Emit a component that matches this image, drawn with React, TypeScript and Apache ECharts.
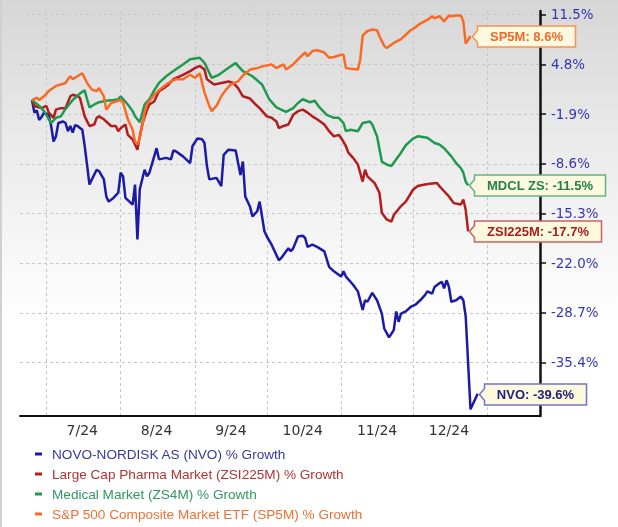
import React, { useEffect, useRef } from 'react';
import * as echarts from 'echarts';

// ---------- categories: one per calendar day, 6/20/2024 .. 1/23/2025 ----------
const FIRST_DAY = Date.UTC(2024, 5, 20);
const DAY_COUNT = 218;
const categories: string[] = [];
for (let i = 0; i < DAY_COUNT; i++) {
  const d = new Date(FIRST_DAY + i * 86400000);
  categories.push(`${d.getUTCMonth() + 1}/${d.getUTCDate()}`);
}

const yTickValues = [-35.4, -28.7, -22.0, -15.3, -8.6, -1.9, 4.8, 11.5];

const legendNames = [
  'NOVO-NORDISK AS (NVO) % Growth',
  'Large Cap Pharma Market (ZSI225M) % Growth',
  'Medical Market (ZS4M) % Growth',
  'S&P 500 Composite Market ETF (SP5M) % Growth',
];
const endTags = ['NVO', 'ZSI225M', 'MDCL ZS', 'SP5M'];

// ---------- NVO ----------
const nvoDates = [
  '6/25', '6/26', '6/27', '6/28', '6/29', '6/30', '7/2', '7/3', '7/4', '7/5',
  '7/6', '7/8', '7/9', '7/10', '7/11', '7/12', '7/13', '7/14', '7/16', '7/17',
  '7/19', '7/20', '7/22', '7/23', '7/25', '7/26', '7/27', '7/29', '7/31', '8/1',
  '8/2', '8/3', '8/6', '8/7', '8/8', '8/9', '8/11', '8/12', '8/13', '8/14',
  '8/16', '8/17', '8/20', '8/22', '8/23', '8/24', '8/27', '8/30', '8/31', '9/2',
  '9/4', '9/5', '9/6', '9/7', '9/10', '9/12', '9/13', '9/15', '9/18', '9/20',
  '9/21', '9/22', '9/24', '9/25', '9/27', '9/28', '9/30', '10/1', '10/3', '10/6',
  '10/7', '10/10', '10/11', '10/12', '10/14', '10/16', '10/17', '10/18', '10/20', '10/22',
  '10/25', '10/27', '10/29', '11/1', '11/2', '11/3', '11/6', '11/8', '11/10', '11/11',
  '11/12', '11/14', '11/16', '11/18', '11/19', '11/21', '11/23', '11/24', '11/25', '11/26',
  '11/28', '11/30', '12/2', '12/4', '12/6', '12/7', '12/9', '12/10', '12/12', '12/13',
  '12/14', '12/15', '12/16', '12/17', '12/19', '12/21', '12/22', '12/23', '12/25', '12/28',
];
const nvoValues = [
  0.0, -1.7, -1.4, -2.7, -2.3, -1.7, -2.0, -3.5, -5.6, -4.9,
  -3.1, -2.9, -3.1, -4.2, -3.5, -4.4, -3.4, -3.5, -4.0, -6.2,
  -11.4, -10.7, -9.4, -9.6, -10.7, -13.0, -13.7, -13.2, -12.5, -9.8,
  -10.3, -13.2, -14.1, -11.4, -18.8, -12.0, -9.4, -10.3, -9.8, -8.7,
  -6.5, -8.0, -7.8, -8.0, -6.8, -6.9, -7.6, -8.5, -6.2, -5.2,
  -5.3, -5.8, -8.9, -10.7, -10.5, -11.6, -7.4, -6.7, -6.8, -10.1,
  -8.3, -13.0, -14.4, -15.7, -15.0, -13.7, -17.7, -18.4, -19.5, -21.6,
  -21.3, -20.0, -20.4, -20.0, -18.4, -18.3, -18.6, -19.8, -19.5, -19.8,
  -20.4, -22.5, -23.1, -23.8, -23.1, -23.8, -24.9, -25.8, -28.3, -27.0,
  -27.2, -26.0, -27.0, -28.8, -30.8, -32.0, -31.0, -28.5, -29.9, -28.8,
  -28.5, -27.9, -27.6, -27.0, -26.3, -25.8, -26.1, -25.2, -24.7, -24.5,
  -25.4, -24.3, -25.2, -27.2, -27.0, -26.5, -27.0, -29.2, -41.7, -39.6,
];

// ---------- ZSI225M ----------
const zsiDates = [
  '6/25', '6/26', '6/29', '7/1', '7/2', '7/4', '7/5', '7/7', '7/9', '7/11',
  '7/12', '7/14', '7/15', '7/17', '7/19', '7/21', '7/22', '7/23', '7/25', '7/28',
  '7/30', '7/31', '8/1', '8/3', '8/4', '8/6', '8/7', '8/8', '8/9', '8/10',
  '8/12', '8/13', '8/15', '8/16', '8/17', '8/19', '8/21', '8/23', '8/27', '8/30',
  '9/1', '9/3', '9/5', '9/6', '9/9', '9/12', '9/15', '9/17', '9/19', '9/21',
  '9/24', '9/26', '9/28', '10/1', '10/3', '10/5', '10/6', '10/8', '10/10', '10/12',
  '10/14', '10/16', '10/18', '10/20', '10/22', '10/25', '10/27', '10/29', '10/31', '11/1',
  '11/3', '11/4', '11/6', '11/8', '11/10', '11/11', '11/12', '11/15', '11/17', '11/18',
  '11/20', '11/22', '11/23', '11/26', '11/28', '12/1', '12/3', '12/6', '12/8', '12/11',
  '12/12', '12/14', '12/16', '12/18', '12/21', '12/22', '12/23', '12/24',
];
const zsiValues = [
  0.0, -0.8, -1.1, -0.8, -1.7, -2.4, -1.3, -1.1, -1.1, 0.5,
  0.7, 0.5, 0.3, -2.2, -3.5, -3.3, -2.4, -2.2, -2.6, -3.5,
  -3.5, -4.2, -3.8, -3.3, -4.7, -5.3, -6.0, -6.7, -4.9, -3.3,
  -1.3, -0.6, -0.2, 0.5, 1.2, 1.6, 2.1, 2.8, 3.4, 3.9,
  4.3, 4.6, 4.1, 2.8, 2.1, 2.3, 2.5, 2.3, 1.6, 0.5,
  0.2, -0.5, -1.1, -2.2, -2.4, -2.9, -3.8, -3.5, -3.3, -2.0,
  -1.5, -1.3, -1.7, -2.2, -2.6, -3.3, -4.2, -4.9, -4.7, -5.1,
  -6.2, -7.1, -7.8, -8.7, -11.0, -9.4, -10.3, -11.2, -12.5, -15.2,
  -16.1, -16.4, -15.5, -14.3, -13.7, -12.1, -11.6, -11.4, -11.3, -11.2,
  -11.6, -12.3, -13.0, -13.9, -14.1, -13.4, -14.8, -17.7,
];

// ---------- ZS4M (MDCL ZS) ----------
const zs4Dates = [
  '6/25', '6/28', '6/30', '7/3', '7/5', '7/7', '7/9', '7/12', '7/14', '7/16',
  '7/17', '7/18', '7/19', '7/21', '7/23', '7/26', '7/29', '7/31', '8/1', '8/4',
  '8/6', '8/7', '8/9', '8/11', '8/13', '8/15', '8/17', '8/20', '8/23', '8/27',
  '8/30', '9/3', '9/5', '9/8', '9/11', '9/14', '9/18', '9/19', '9/21', '9/25',
  '9/29', '10/2', '10/5', '10/9', '10/12', '10/14', '10/16', '10/19', '10/21', '10/23',
  '10/26', '10/29', '10/31', '11/2', '11/3', '11/5', '11/8', '11/10', '11/13', '11/14',
  '11/16', '11/18', '11/20', '11/22', '11/24', '11/26', '11/28', '12/1', '12/3', '12/7',
  '12/10', '12/12', '12/14', '12/17', '12/19', '12/21', '12/22', '12/23', '12/24',
];
const zs4Values = [
  0.0, -0.8, -1.5, -3.1, -2.4, -2.2, -1.2, 0.0, 0.6, 1.1,
  1.3, 0.1, -1.0, -0.6, -0.3, -0.1, 0.0, 0.1, 0.5, -0.6,
  -1.5, -2.2, -3.0, -0.6, 0.1, 1.3, 2.3, 3.2, 3.9, 4.8,
  5.5, 5.7, 5.0, 3.0, 3.4, 4.1, 5.0, 4.6, 3.9, 3.2,
  2.1, 0.1, -1.0, -1.6, -1.1, -0.4, 0.1, -0.3, -0.1, -1.0,
  -2.0, -2.4, -2.4, -3.1, -4.2, -4.0, -4.2, -3.1, -2.9, -3.3,
  -4.9, -8.3, -8.7, -8.9, -8.0, -7.1, -6.1, -5.2, -4.9, -5.1,
  -5.8, -6.0, -6.5, -7.6, -8.5, -9.2, -9.8, -11.0, -11.5,
];

// ---------- SP5M ----------
const sp5Dates = [
  '6/25', '6/27', '6/28', '6/30', '7/2', '7/5', '7/7', '7/9', '7/10', '7/11',
  '7/12', '7/14', '7/16', '7/18', '7/20', '7/22', '7/23', '7/25', '7/26', '7/28',
  '7/31', '8/1', '8/2', '8/4', '8/6', '8/7', '8/8', '8/9', '8/10', '8/11',
  '8/12', '8/14', '8/16', '8/18', '8/20', '8/22', '8/24', '8/27', '8/30', '9/1',
  '9/3', '9/5', '9/7', '9/8', '9/10', '9/12', '9/14', '9/16', '9/19', '9/21',
  '9/24', '9/27', '9/30', '10/3', '10/5', '10/8', '10/9', '10/12', '10/15', '10/17',
  '10/18', '10/20', '10/22', '10/25', '10/27', '10/29', '11/1', '11/2', '11/3', '11/5',
  '11/8', '11/9', '11/10', '11/12', '11/14', '11/16', '11/17', '11/19', '11/20', '11/23',
  '11/26', '11/28', '11/30', '12/2', '12/4', '12/7', '12/9', '12/10', '12/12', '12/14',
  '12/16', '12/17', '12/19', '12/21', '12/22', '12/23', '12/25',
];
const sp5Values = [
  0.0, 0.3, 0.0, 0.5, 1.2, 1.9, 2.1, 2.3, 2.8, 3.2,
  2.8, 3.2, 3.6, 2.3, 1.4, 1.2, 1.6, 0.5, -1.3, -0.4,
  -0.1, 0.0, -0.3, -2.6, -4.0, -5.6, -6.0, -5.1, -3.5, -1.7,
  -0.6, 0.3, 1.0, 1.6, 2.1, 2.5, 2.8, 2.8, 3.4, 3.0,
  3.6, 1.0, -0.8, -1.5, -0.8, 0.5, 1.4, 2.1, 2.5, 3.3,
  4.1, 4.3, 4.6, 4.8, 4.3, 4.8, 4.1, 4.8, 5.8, 6.4,
  5.9, 6.6, 6.7, 6.4, 5.7, 5.8, 6.1, 6.1, 4.3, 4.2,
  4.1, 5.5, 8.7, 9.3, 9.5, 9.4, 8.6, 7.3, 7.0, 7.7,
  8.2, 8.8, 9.4, 9.8, 10.3, 10.8, 11.3, 11.0, 11.3, 10.6,
  11.4, 11.3, 11.4, 11.4, 10.6, 7.6, 8.6,
];

// ---------- styles ----------
const seriesStyles = [
  { line: '#1b1ba6', text: '#20207f', legendText: '#38389c', border: '#7373c8' },
  { line: '#b31d1d', text: '#a81c1c', legendText: '#b03434', border: '#cc6060' },
  { line: '#20994f', text: '#23824a', legendText: '#2f9860', border: '#62b482' },
  { line: '#fb6a24', text: '#ef6a26', legendText: '#ef7034', border: '#f3925a' },
];
const seriesData = [
  { dates: nvoDates, values: nvoValues },
  { dates: zsiDates, values: zsiValues },
  { dates: zs4Dates, values: zs4Values },
  { dates: sp5Dates, values: sp5Values },
];

const CALLOUT_FONT = 'bold 13px "Liberation Sans", Arial, sans-serif';
function measure(text: string): number {
  const ctx = document.createElement('canvas').getContext('2d');
  if (!ctx) return text.length * 7.5;
  ctx.font = CALLOUT_FONT;
  return ctx.measureText(text).width;
}

function backgroundGraphics() {
  return [
    {
      id: 'bg',
      type: 'rect',
      z: -100,
      silent: true,
      shape: { x: 0, y: 0, width: 618, height: 527 },
      style: {
        fill: new echarts.graphic.LinearGradient(0, 0, 0, 1, [
          { offset: 0, color: '#d6d6d6' },
          { offset: 0.25, color: '#e9e9e9' },
          { offset: 0.5, color: '#f8f8f8' },
          { offset: 0.62, color: '#ffffff' },
          { offset: 1, color: '#ffffff' },
        ]),
      },
    },
    {
      id: 'edge',
      type: 'rect',
      z: -99,
      silent: true,
      shape: { x: 0, y: 0, width: 2, height: 527 },
      style: { fill: '#d0d0d0' },
    },
  ];
}

function buildOption() {
  const series = seriesData.map((sd, k) => {
    const n = Math.min(sd.dates.length, sd.values.length);
    const data = [];
    for (let i = 0; i < n; i++) data.push([sd.dates[i], sd.values[i]]);
    const st = seriesStyles[k];
    return {
      name: legendNames[k],
      type: 'line',
      data,
      showSymbol: false,
      symbol: 'none',
      lineStyle: { color: st.line, width: 2.5 },
      itemStyle: { color: st.line },
    };
  });

  const dashed = { color: '#c6c6c6', width: 1, type: [3, 3] as number[] };

  return {
    animation: false,
    graphic: backgroundGraphics(),
    grid: { left: 20, right: 78, top: 11, bottom: 111, outerBoundsMode: 'none' },
    legend: {
      orient: 'vertical',
      left: 30,
      top: 442,
      itemWidth: 7,
      itemHeight: 3,
      itemGap: 6,
      icon: 'rect',
      selectedMode: false,
      textStyle: { fontSize: 13.6, fontFamily: '"Liberation Sans", Arial, sans-serif', padding: [0, 0, 0, 5] },
      data: legendNames.map((name, k) => ({ name, textStyle: { color: seriesStyles[k].legendText } })),
    },
    xAxis: {
      type: 'category',
      data: categories,
      boundaryGap: false,
      axisLine: { show: true, onZero: false, lineStyle: { color: '#111', width: 2 } },
      axisTick: { show: false },
      axisLabel: {
        interval: (_i: number, v: string) => {
          const [m, d] = v.split('/').map(Number);
          return d === 16 && m >= 7;
        },
        formatter: (v: string) => `${v.split('/')[0]}/24`,
        color: '#333',
        fontSize: 14,
        fontFamily: '"DejaVu Sans", Verdana, sans-serif',
        margin: 7,
      },
      splitLine: {
        show: true,
        interval: (_i: number, v: string) => v.split('/')[1] === '1',
        lineStyle: dashed,
      },
    },
    yAxis: {
      type: 'value',
      position: 'right',
      min: -42.6,
      max: 12.0,
      axisLine: { show: true, onZero: false, lineStyle: { color: '#111', width: 2.5 } },
      axisTick: { show: true, inside: false, length: 6, customValues: yTickValues, lineStyle: { color: '#111', width: 1.5 } },
      axisLabel: {
        customValues: yTickValues,
        formatter: (v: number) => `${v.toFixed(1)}%`,
        color: '#3535b5',
        fontSize: 13.4,
        fontFamily: '"DejaVu Sans", Verdana, sans-serif',
        margin: 11,
      },
      splitLine: { show: true, lineStyle: dashed },
    },
    series,
  };
}

// Callout boxes placed at each series' last point (positions from the chart's own scales)
function calloutGraphics(chart: echarts.ECharts) {
  const P = 5; // pointer depth
  const A = 6; // pointer half height
  const H = 21;
  const out: any[] = [];
  seriesData.forEach((sd, k) => {
    const n = Math.min(sd.dates.length, sd.values.length);
    const lastDate = sd.dates[n - 1];
    const lastVal = sd.values[n - 1];
    const pt = chart.convertToPixel({ gridIndex: 0 }, [categories.indexOf(lastDate), lastVal]) as number[];
    if (!pt) return;
    const txt = `${endTags[k]}: ${lastVal.toFixed(1)}%`;
    const boxW = Math.round(measure(txt) + 25);
    const st = seriesStyles[k];
    const tx = Math.round(pt[0]) + 1.5;
    const cy = Math.round(pt[1]) + 0.5;
    const bx = tx + P;
    const top = cy - H / 2;
    const bot = cy + H / 2;
    out.push({
      id: `callout-${k}`,
      type: 'polygon',
      z: 100,
      silent: true,
      shape: {
        points: [
          [tx, cy],
          [bx, cy - A],
          [bx, top],
          [bx + boxW, top],
          [bx + boxW, bot],
          [bx, bot],
          [bx, cy + A],
        ],
      },
      style: { fill: '#fdf9df', stroke: st.border, lineWidth: 1.5 },
    });
    out.push({
      id: `callout-text-${k}`,
      type: 'text',
      z: 101,
      silent: true,
      x: bx + boxW / 2,
      y: cy,
      style: {
        text: txt,
        fill: st.text,
        font: CALLOUT_FONT,
        align: 'center',
        verticalAlign: 'middle',
      },
    });
  });
  return out;
}

export default function App() {
  const ref = useRef<HTMLDivElement>(null);
  useEffect(() => {
    if (!ref.current) return;
    const chart = echarts.init(ref.current, null, { renderer: 'svg' });
    chart.setOption(buildOption() as any);
    chart.setOption({ graphic: [...backgroundGraphics(), ...calloutGraphics(chart)] } as any);
    return () => chart.dispose();
  }, []);
  return <div ref={ref} style={{ position: 'fixed', left: 0, top: 0, width: 618, height: 527 }} />;
}
